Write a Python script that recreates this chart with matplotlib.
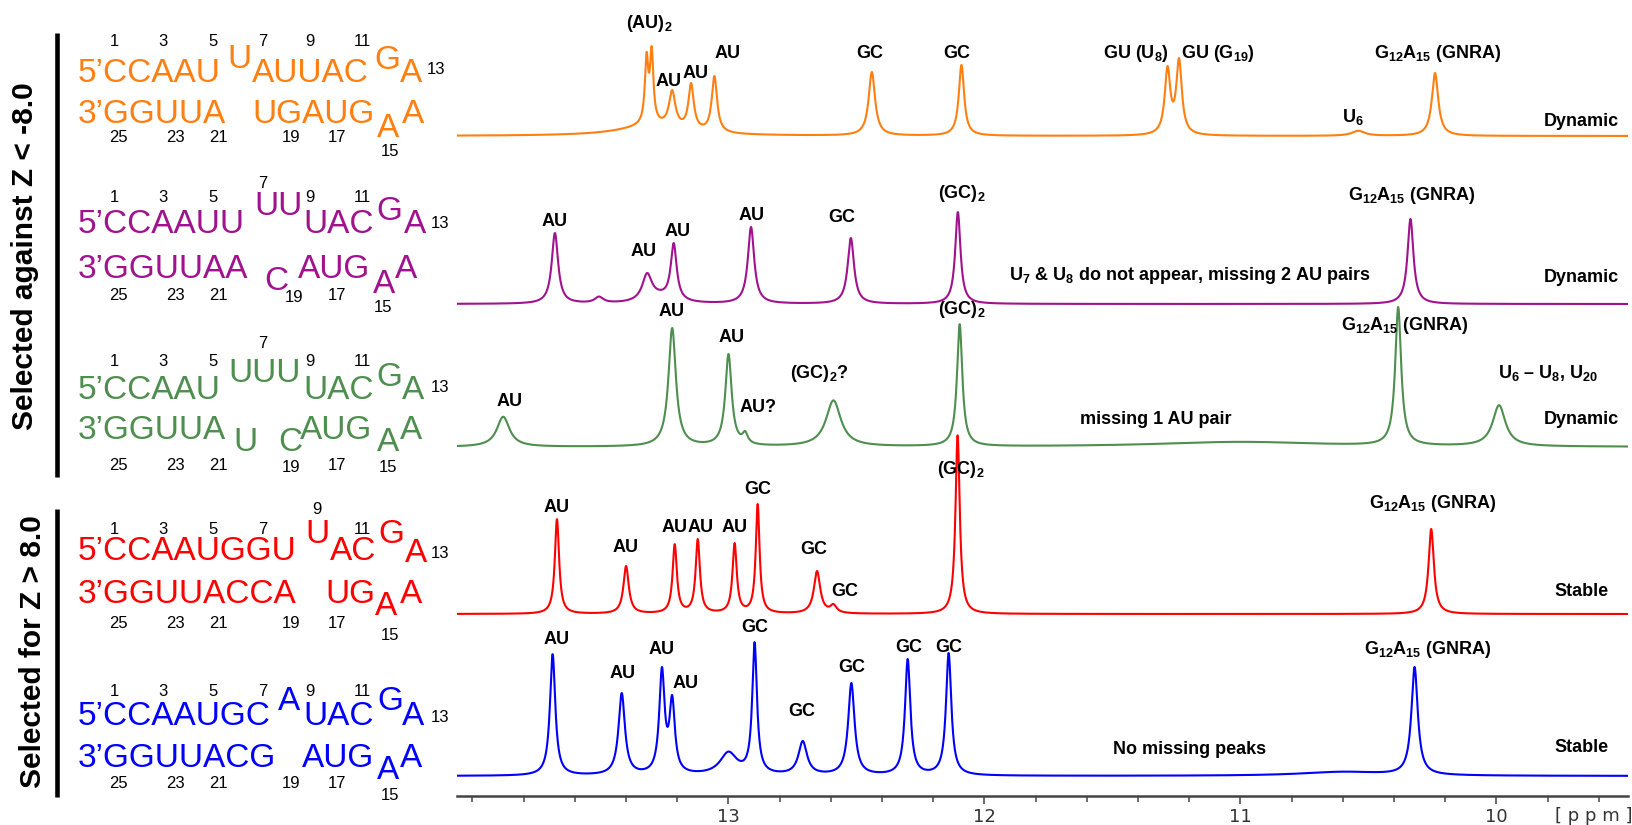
import numpy as np
import matplotlib
matplotlib.use("Agg")
import matplotlib.pyplot as plt

plt.rcParams['font.family'] = ['Liberation Sans', 'DejaVu Sans']
plt.rcParams['mathtext.fontset'] = 'custom'
plt.rcParams['mathtext.rm'] = 'Liberation Sans:bold'
plt.rcParams['mathtext.it'] = 'Liberation Sans:bold'
plt.rcParams['mathtext.bf'] = 'Liberation Sans:bold'

# ---------------- data: peak lists (ppm, height, width) -------------
orange_ppm = [13.32, 13.30, 13.22, 13.146, 13.055, 12.44, 12.09, 11.285, 11.24, 10.24]
orange_height = [84, 90, 46, 53, 60, 64, 71, 70, 78, 63]
orange_width = [0.016, 0.016, 0.03, 0.025, 0.025, 0.03, 0.025, 0.026, 0.026, 0.03]
orange_broad = [(13.30, 10, 0.30), (10.54, 5, 0.06)]

purple_ppm = [13.678, 13.318, 13.214, 12.912, 12.522, 12.104, 10.336]
purple_height = [71, 31, 61, 77, 66, 92, 85]
purple_width = [0.03, 0.045, 0.028, 0.03, 0.03, 0.025, 0.028]
purple_broad = [(13.506, 6, 0.04), (13.27, 6, 0.12)]

green_ppm = [13.22, 13.0, 12.935, 12.097, 10.384]
green_height = [119, 93, 16, 123, 140]
green_width = [0.035, 0.03, 0.025, 0.025, 0.028]
green_broad = [(13.88, 30, 0.06), (12.59, 46, 0.07), (9.99, 41, 0.06), (11.0, 5, 0.8)]

red_ppm = [13.67, 13.40, 13.21, 13.12, 12.976, 12.886, 12.654, 12.59, 12.105, 10.255]
red_height = [95, 48, 70, 75, 71, 110, 43, 10, 179, 85]
red_width = [0.02, 0.025, 0.02, 0.02, 0.02, 0.018, 0.03, 0.03, 0.02, 0.025]
red_broad = []

blue_ppm = [13.687, 13.417, 13.26, 13.22, 12.898, 12.71, 12.52, 12.30, 12.14, 10.32]
blue_height = [122, 83, 109, 81, 134, 35, 93, 117, 123, 109]
blue_width = [0.025, 0.03, 0.025, 0.025, 0.022, 0.04, 0.03, 0.025, 0.025, 0.03]
blue_broad = [(13.0, 22, 0.08), (10.6, 4, 0.4)]

tick_major = [13, 12, 11, 10]
tick_labels = ['13', '12', '11', '10']

# ---------------- colours and layout ----------------
C_OR, C_PU, C_GR, C_RE, C_BL = '#FF7F11', '#A0128E', '#4E8E4E', '#FF0000', '#0000FF'
W, H = 1633, 825
AX_BOTTOM_PX = 796
XL, XR = 14.0605, 9.4863

fig = plt.figure(figsize=(W / 100, H / 100), dpi=100)
lay = fig.add_axes([0, 0, 1, 1])
lay.set_xlim(0, W)
lay.set_ylim(H, 0)
lay.axis('off')

ax = fig.add_axes([457 / W, (H - AX_BOTTOM_PX) / H, (1628 - 457) / W, AX_BOTTOM_PX / H])
ax.patch.set_visible(False)
ax.set_xlim(XL, XR)
ax.set_ylim(0, AX_BOTTOM_PX)
for s in ['top', 'left', 'right']:
    ax.spines[s].set_visible(False)
ax.spines['bottom'].set_linewidth(1.8)
ax.spines['bottom'].set_color('#444444')
ax.set_yticks([])
ax.set_xticks(tick_major)
ax.set_xticklabels(tick_labels, family='DejaVu Sans', fontsize=13, color='#333333')
ax.set_xticks(np.round(np.arange(9.6, 14.01, 0.2), 2), minor=True)
ax.tick_params(axis='x', which='major', length=6, width=1.1, color='#444444', pad=3)
ax.tick_params(axis='x', which='minor', length=4.5, width=1.1, color='#444444')
ax.text(9.62, -20, '[ p p m ]', family='DejaVu Sans', fontsize=13, color='#333333',
        ha='center', va='center')

x = np.linspace(XL, XR, 4000)


def lor(xx, c, w):
    return 1.0 / (1.0 + ((xx - c) / (w / 2.0)) ** 2)


def spectrum(ppm, hts, wid, broad):
    ppm = np.asarray(ppm, float)
    hts = np.asarray(hts, float)
    wid = np.asarray(wid, float)
    yb = np.zeros_like(x)
    bpk = np.zeros_like(ppm)
    for c, h, w in broad:
        yb += h * lor(x, c, w)
        bpk += h * lor(ppm, c, w)
    M = lor(ppm[:, None], ppm[None, :], wid[None, :])
    amp = np.clip(np.linalg.solve(M, hts - bpk), 0, None)
    y = yb.copy()
    for a, c, w in zip(amp, ppm, wid):
        y += a * lor(x, c, w)
    return y


spectra = [
    (orange_ppm, orange_height, orange_width, orange_broad, 136, C_OR),
    (purple_ppm, purple_height, purple_width, purple_broad, 304, C_PU),
    (green_ppm, green_height, green_width, green_broad, 447, C_GR),
    (red_ppm, red_height, red_width, red_broad, 614, C_RE),
    (blue_ppm, blue_height, blue_width, blue_broad, 776, C_BL),
]
for ppm, hts, wid, broad, base_px, col in spectra:
    y = spectrum(ppm, hts, wid, broad)
    ax.plot(x, (AX_BOTTOM_PX - base_px) + y, color=col, lw=1.5, solid_joinstyle='round')

# ---------------- peak annotations (ppm, pixel row from top) ----------------
lab_kw = dict(ha='center', va='center', fontsize=13, fontweight='bold', color='black')


def lab(ppm, ypx, s, **kw):
    d = dict(lab_kw)
    d.update(kw)
    ax.text(ppm, AX_BOTTOM_PX - ypx, s, **d)


# orange
lab(13.31, 24, r'(AU)$_2$')
lab(13.236, 82, 'AU')
lab(13.127, 73, 'AU')
lab(13.005, 54, 'AU')
lab(12.45, 54, 'GC')
lab(12.11, 54, 'GC')
lab(11.41, 54, r'GU (U$_8$)')
lab(11.09, 54, r'GU (G$_{19}$)')
lab(10.56, 117, r'U$_6$')
lab(10.23, 54, r'G$_{12}$A$_{15}$ (GNRA)')
lab(9.667, 122, 'Dynamic')
# purple
lab(13.678, 222, 'AU')
lab(13.33, 252, 'AU')
lab(13.20, 232, 'AU')
lab(12.91, 215, 'AU')
lab(12.557, 217, 'GC')
lab(12.09, 194, r'(GC)$_2$')
lab(11.905, 275, r'U$_7$ & U$_8$ do not appear, missing 2 AU pairs', ha='left')
lab(10.33, 196, r'G$_{12}$A$_{15}$ (GNRA)')
lab(9.667, 278, 'Dynamic')
# green
lab(13.854, 401, 'AU')
lab(13.224, 312, 'AU')
lab(12.988, 338, 'AU')
lab(12.886, 408, 'AU?')
lab(12.646, 373, r'(GC)$_2$?')
lab(12.09, 310, r'(GC)$_2$')
lab(11.33, 419, 'missing 1 AU pair')
lab(10.36, 326, r'G$_{12}$A$_{15}$ (GNRA)')
lab(9.80, 373, r'U$_6$ – U$_8$, U$_{20}$')
lab(9.667, 419, 'Dynamic')
# red
lab(12.093, 469, r'(GC)$_2$')
lab(13.671, 507, 'AU')
lab(13.403, 548, 'AU')
lab(13.21, 527, 'AU')
lab(13.11, 527, 'AU')
lab(12.976, 527, 'AU')
lab(12.886, 490, 'GC')
lab(12.666, 549, 'GC')
lab(12.544, 592, 'GC')
lab(10.25, 504, r'G$_{12}$A$_{15}$ (GNRA)')
lab(9.667, 592, 'Stable')
# blue
lab(13.671, 640, 'AU')
lab(13.415, 673, 'AU')
lab(13.26, 650, 'AU')
lab(13.167, 684, 'AU')
lab(12.898, 628, 'GC')
lab(12.715, 712, 'GC')
lab(12.52, 668, 'GC')
lab(12.296, 648, 'GC')
lab(12.138, 648, 'GC')
lab(10.27, 650, r'G$_{12}$A$_{15}$ (GNRA)')
lab(11.20, 750, 'No missing peaks')
lab(9.667, 748, 'Stable')

# ---------------- left panel: sequences ----------------
SEQ_FS = 24
NUM_FS = 12
sequences = [
    (C_OR,
     [("5’CCAAU", 78, 82), ("U", 227, 68), ("AUUAC", 252, 82), ("G", 374, 69), ("A", 400, 82),
      ("3’GGUUA", 78, 123), ("UGAUG", 252, 123), ("A", 377, 137), ("A", 402, 123)],
     [("1", 114, 42), ("3", 163, 42), ("5", 213, 42), ("7", 263, 42), ("9", 310, 42), ("11", 362, 42),
      ("13", 436, 70),
      ("25", 118, 137), ("23", 175, 137), ("21", 218, 137), ("19", 291, 137), ("17", 337, 137),
      ("15", 390, 152)]),
    (C_PU,
     [("5’CCAAUU", 78, 233), ("UU", 254, 215), ("UAC", 303, 233), ("G", 376, 220), ("A", 404, 233),
      ("3’GGUUAA", 78, 278), ("C", 264, 290), ("AUG", 298, 278), ("A", 373, 293), ("A", 395, 278)],
     [("1", 114, 197), ("3", 163, 197), ("5", 213, 197), ("7", 263, 183), ("9", 310, 197), ("11", 362, 197),
      ("13", 440, 223),
      ("25", 118, 296), ("23", 175, 296), ("21", 218, 296), ("19", 294, 298), ("17", 337, 296),
      ("15", 383, 308)]),
    (C_GR,
     [("5’CCAAU", 78, 399), ("UUU", 228, 382), ("UAC", 303, 399), ("G", 376, 386), ("A", 402, 399),
      ("3’GGUUA", 78, 439), ("U", 233, 451), ("C", 278, 451), ("AUG", 300, 439), ("A", 377, 451),
      ("A", 400, 439)],
     [("1", 114, 362), ("3", 163, 362), ("5", 213, 362), ("7", 263, 343), ("9", 310, 362), ("11", 362, 362),
      ("13", 440, 388),
      ("25", 118, 466), ("23", 175, 466), ("21", 218, 466), ("19", 291, 467), ("17", 337, 466),
      ("15", 388, 468)]),
    (C_RE,
     [("5’CCAAUGGU", 78, 560), ("U", 305, 543), ("AC", 330, 560), ("G", 378, 543), ("A", 405, 562),
      ("3’GGUUACCA", 78, 603), ("UG", 325, 603), ("A", 375, 615), ("A", 400, 603)],
     [("1", 114, 529), ("3", 163, 529), ("5", 213, 529), ("7", 263, 529), ("9", 317, 510), ("11", 362, 529),
      ("13", 440, 554),
      ("25", 118, 623), ("23", 175, 623), ("21", 218, 623), ("19", 291, 623), ("17", 337, 623),
      ("15", 390, 635)]),
    (C_BL,
     [("5’CCAAUGC", 78, 725), ("A", 278, 710), ("UAC", 303, 725), ("G", 377, 710), ("A", 402, 725),
      ("3’GGUUACG", 78, 767), ("AUG", 302, 767), ("A", 377, 779), ("A", 400, 767)],
     [("1", 114, 692), ("3", 163, 692), ("5", 213, 692), ("7", 263, 692), ("9", 310, 692), ("11", 362, 692),
      ("13", 440, 718),
      ("25", 118, 783), ("23", 175, 783), ("21", 218, 783), ("19", 291, 783), ("17", 337, 783),
      ("15", 390, 795)]),
]
for col, segs, nums in sequences:
    for t, xx, yy in segs:
        lay.text(xx, yy, t, color=col, fontsize=SEQ_FS, ha='left', va='baseline')
    for t, xx, yy in nums:
        lay.text(xx, yy, t, color='black', fontsize=NUM_FS, ha='center', va='center')

# group brackets and vertical titles
lay.plot([57.5, 57.5], [33, 477], color='black', lw=3.3, solid_capstyle='butt')
lay.plot([57.5, 57.5], [509, 797], color='black', lw=3.3, solid_capstyle='butt')
lay.text(25, 256, 'Selected against Z < -8.0', rotation=90, fontsize=21.5, fontweight='bold',
         ha='center', va='center')
lay.text(33, 652, 'Selected for Z > 8.0', rotation=90, fontsize=21.5, fontweight='bold',
         ha='center', va='center')

fig.savefig('out.png', dpi=100)
